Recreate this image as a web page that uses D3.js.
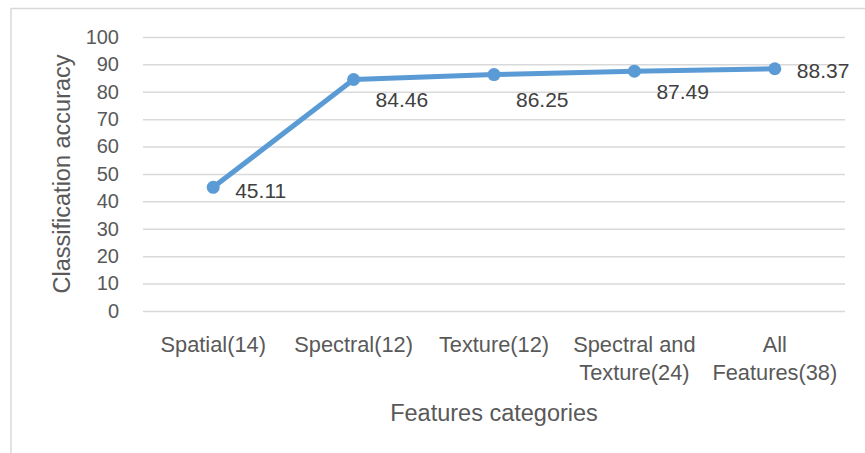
<!DOCTYPE html>
<html>
<head>
<meta charset="utf-8">
<script src="https://cdn.jsdelivr.net/npm/d3@7"></script>
<style>
  html, body { margin: 0; padding: 0; background: #ffffff; }
  svg { display: block; font-family: "Liberation Sans", Arial, sans-serif; }
</style>
</head>
<body>
<svg id="chart" width="865" height="453"></svg>
<script>
// Feature groups (number of features in brackets) and overall accuracy (%)
const categories = ["Spatial(14)", "Spectral(12)", "Texture(12)", "Spectral and Texture(24)", "All Features(38)"];
const accuracy = [45.11, 84.46, 86.25, 87.49, 88.37];
const yTicks = [0, 10, 20, 30, 40, 50, 60, 70, 80, 90, 100];
// vertical nudge (px) of each value label, placed to the right of its marker
const labelNudge = [3, 20, 25, 20, 2];

const svg = d3.select("#chart");
const W = 865, H = 453;
const plot = { left: 143, right: 845, top: 36.9, bottom: 311 };
const textColor = "#595959";
const gridColor = "#d9d9d9";
const lineColor = "#5b9bd5";

// chart area frame
svg.append("rect")
  .attr("x", 11).attr("y", 8.5)
  .attr("width", W + 20).attr("height", H + 20)
  .attr("fill", "#ffffff")
  .attr("stroke", gridColor).attr("stroke-width", 1.5);

const x = d3.scaleBand().domain(categories).range([plot.left, plot.right]).padding(0);
const y = d3.scaleLinear().domain([0, 100]).range([plot.bottom, plot.top]);

// value axis with horizontal gridlines
const yAxis = svg.append("g")
  .attr("transform", `translate(${plot.left},0)`)
  .call(d3.axisLeft(y).tickValues(yTicks).tickFormat(d3.format("d"))
    .tickSize(-(plot.right - plot.left)).tickPadding(24));
yAxis.select(".domain").remove();
yAxis.selectAll(".tick line").attr("stroke", gridColor).attr("stroke-width", 1.5);
yAxis.selectAll(".tick text")
  .attr("fill", textColor).attr("font-size", 20)
  .attr("font-family", "Liberation Sans, Arial, sans-serif");

// category axis, labels wrapped to the band width
const xAxis = svg.append("g")
  .attr("transform", `translate(0,${plot.bottom})`)
  .call(d3.axisBottom(x).tickSize(0).tickPadding(0));
xAxis.select(".domain").remove();
xAxis.selectAll(".tick text")
  .attr("fill", textColor).attr("font-size", 21.8)
  .attr("font-family", "Liberation Sans, Arial, sans-serif")
  .attr("y", 0).attr("dy", null)
  .each(function (d) { wrap(d3.select(this), d, x.bandwidth() - 8); });

function wrap(textSel, label, maxWidth) {
  const words = label.split(/\s+/);
  textSel.text(null);
  let lines = [];
  let current = [];
  const probe = textSel.append("tspan");
  words.forEach(w => {
    const trial = current.concat([w]).join(" ");
    probe.text(trial);
    if (probe.node().getComputedTextLength() > maxWidth && current.length) {
      lines.push(current.join(" "));
      current = [w];
    } else {
      current.push(w);
    }
  });
  lines.push(current.join(" "));
  probe.remove();
  lines.forEach((ln, i) => {
    textSel.append("tspan")
      .attr("x", 0)
      .attr("y", 41 + i * 28)
      .text(ln);
  });
}

// accuracy line and markers
const pts = accuracy.map((v, i) => ({ cat: categories[i], v, i }));
const cx = d => x(d.cat) + x.bandwidth() / 2;

svg.append("path")
  .datum(pts)
  .attr("fill", "none")
  .attr("stroke", lineColor)
  .attr("stroke-width", 5)
  .attr("stroke-linejoin", "round")
  .attr("stroke-linecap", "round")
  .attr("d", d3.line().x(cx).y(d => y(d.v)));

svg.append("g").selectAll("circle")
  .data(pts).join("circle")
  .attr("cx", cx).attr("cy", d => y(d.v))
  .attr("r", 6.5)
  .attr("fill", lineColor);

// value labels
svg.append("g").selectAll("text")
  .data(pts).join("text")
  .attr("x", d => cx(d) + 22)
  .attr("y", d => y(d.v) + labelNudge[d.i])
  .attr("dy", "0.36em")
  .attr("fill", "#404040")
  .attr("font-size", 21)
  .text(d => d.v.toFixed(2));

// axis titles
svg.append("text")
  .attr("x", (plot.left + plot.right) / 2)
  .attr("y", 421)
  .attr("text-anchor", "middle")
  .attr("fill", textColor)
  .attr("font-size", 23.5)
  .text("Features categories");

svg.append("text")
  .attr("transform", `translate(70,${(plot.top + plot.bottom) / 2}) rotate(-90)`)
  .attr("text-anchor", "middle")
  .attr("fill", textColor)
  .attr("font-size", 23.5)
  .text("Classification accuracy");
</script>
</body>
</html>
